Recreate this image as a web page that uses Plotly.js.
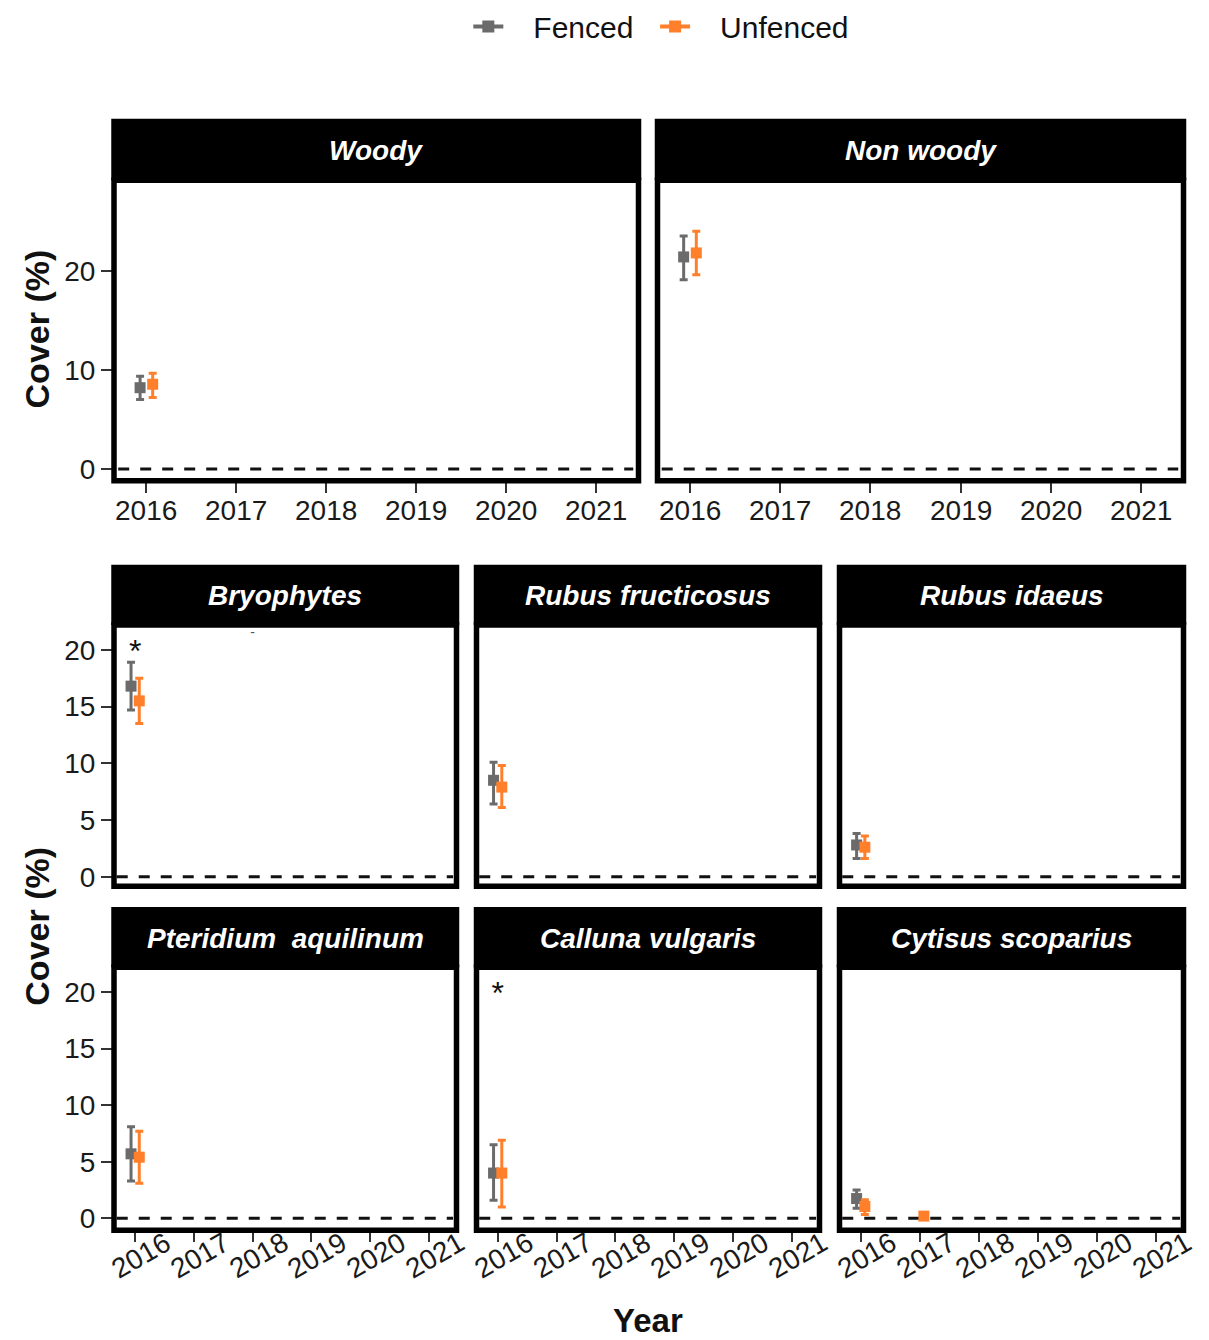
<!DOCTYPE html>
<html><head><meta charset="utf-8">
<script src="https://cdn.plot.ly/plotly-3.0.1.min.js"></script>
<style>html,body{margin:0;padding:0;background:#fff;}</style>
</head><body>
<div id="chart" style="width:1209px;height:1340px;"></div>
<script>
// ---------- DATA ----------
const panelNames = ["Woody", "Non woody", "Bryophytes", "Rubus fructicosus", "Rubus idaeus",
  "Pteridium\u00a0 aquilinum", "Calluna vulgaris", "Cytisus scoparius"];
const years = [2016, 2017, 2018, 2019, 2020, 2021];
const yearLabels = ["2016", "2017", "2018", "2019", "2020", "2021"];
const seriesNames = ["Fenced", "Unfenced"];

const fencedYear  = [[2016], [2016], [2016], [2016], [2016], [2016], [2016], [2016]];
const fencedMean  = [[8.2],  [21.4], [16.8], [8.5],  [2.8], [5.7], [4.0], [1.75]];
const fencedUpper = [[9.35], [23.5], [18.9], [10.1], [3.8], [8.1], [6.5], [2.5]];
const fencedLower = [[7.0],  [19.1], [14.7], [6.4],  [1.6], [3.3], [1.6], [0.9]];

const unfencedYear  = [[2016], [2016], [2016], [2016], [2016], [2016], [2016], [2016, 2017]];
const unfencedMean  = [[8.55], [21.8], [15.5], [7.9], [2.6], [5.4], [4.0], [1.05, 0.2]];
const unfencedUpper = [[9.65], [24.0], [17.5], [9.8], [3.6], [7.7], [6.9], [1.65, 0.25]];
const unfencedLower = [[7.2],  [19.6], [13.5], [6.1], [1.6], [3.1], [1.0], [0.35, 0.15]];

// significance marks
const sigPanel = [2, 6];
const sigYear  = [2016, 2016];
const sigValue = [19.6, 19.6];
const sigText  = ["*", "*"];
// stray dash in Bryophytes panel
const dashPanel = [2];
const dashYear = [2018];
const dashValue = [21.4];

const yTicksTop = [0, 10, 20];
const yTicksLow = [0, 5, 10, 15, 20];

// ---------- STYLE / LAYOUT ----------
const W = 1209, H = 1340;
const colors = ["#6b6b6b", "#ff7f2a"];
const dodge = 0.07;
const font = "Liberation Sans, Arial, Helvetica, sans-serif";
const rows = [
  {stripTop: 105, plotTop: 167, plotBottom: 471, yRange: [-1.19, 29.15], ticks: yTicksTop, xLabels: true, labelY: 501, angle: 0, shift: 0},
  {stripTop: 556, plotTop: 617, plotBottom: 881, yRange: [-0.83, 22.18], ticks: yTicksLow, xLabels: false},
  {stripTop: 902, plotTop: 963, plotBottom: 1229, yRange: [-1.05, 22.18], ticks: yTicksLow, xLabels: true, labelY: 1255, angle: -30, shift: 6}
];
const colsTop = [[114, 638.5], [657.5, 1183.5]];
const colsLow = [[114, 456.5], [476.5, 819.5], [839.5, 1183.5]];
const panelPos = [
  [0, colsTop[0]], [0, colsTop[1]],
  [1, colsLow[0]], [1, colsLow[1]], [1, colsLow[2]],
  [2, colsLow[0]], [2, colsLow[1]], [2, colsLow[2]]
];
const xRange = [2015.64, 2021.47];

const px = v => v / W;
const py = v => 1 - v / H;
const nb = "\u00a0";

const traces = [];
const layout = {
  width: W, height: H,
  margin: {l: 0, r: 0, t: 0, b: 0},
  paper_bgcolor: "#fff", plot_bgcolor: "#fff",
  font: {family: font, color: "#111"},
  showlegend: true,
  legend: {orientation: "h", x: 0.547, xanchor: "center", y: 1.011, yanchor: "top",
           font: {size: 30, family: font, color: "#111"}, bgcolor: "rgba(0,0,0,0)"},
  shapes: [], annotations: []
};

panelPos.forEach(([r, cx], i) => {
  const row = rows[r];
  const k = i + 1;
  const xa = "xaxis" + (k === 1 ? "" : k), ya = "yaxis" + (k === 1 ? "" : k);
  const xr = "x" + (k === 1 ? "" : k), yr = "y" + (k === 1 ? "" : k);
  const leftCol = (i === 0 || i === 2 || i === 5);
  layout[xa] = {
    domain: [px(cx[0]), px(cx[1])], anchor: yr, range: xRange,
    tickvals: years, showticklabels: false, ticks: row.xLabels ? "outside" : "",
    ticklen: 11, tickwidth: 2, tickcolor: "#333",
    showgrid: false, zeroline: false, showline: false, fixedrange: true
  };
  layout[ya] = {
    domain: [py(row.plotBottom), py(row.plotTop)], anchor: xr, range: row.yRange,
    tickvals: row.ticks, ticktext: row.ticks.map(String),
    showticklabels: leftCol, ticks: leftCol ? "outside" : "",
    ticklen: 12, tickwidth: 2, tickcolor: "#333",
    tickfont: {size: 28, family: font, color: "#1a1a1a"},
    showgrid: false, zeroline: false, showline: false, fixedrange: true
  };
  // x tick labels
  if (row.xLabels) {
    years.forEach((yv, j) => layout.annotations.push({
      xref: xr, yref: "paper", x: yv, y: py(row.labelY), xshift: row.shift,
      xanchor: "center", yanchor: "middle", textangle: row.angle, showarrow: false,
      text: yearLabels[j], font: {size: 28, family: font, color: "#1a1a1a"}
    }));
  }
  // dashed zero line
  layout.shapes.push({type: "line", xref: xr + " domain", yref: yr, x0: 0.008, x1: 0.99, y0: 0, y1: 0,
    line: {color: "#111", width: 3, dash: "11px,11px"}, layer: "below"});
  // frame
  layout.shapes.push({type: "rect", xref: "paper", yref: "paper",
    x0: px(cx[0]), x1: px(cx[1]), y0: py(row.plotBottom), y1: py(row.plotTop),
    line: {color: "#000", width: 5.5}, fillcolor: "rgba(0,0,0,0)", layer: "above"});
  // strip
  layout.shapes.push({type: "rect", xref: "paper", yref: "paper",
    x0: px(cx[0] - 2.75), x1: px(cx[1] + 2.75), y0: py(row.plotTop), y1: py(row.stripTop),
    line: {width: 0}, fillcolor: "#000", layer: "above"});
  layout.annotations.push({xref: "paper", yref: "paper", x: px((cx[0] + cx[1]) / 2),
    y: py((row.stripTop + row.plotTop) / 2 + 1), xanchor: "center", yanchor: "middle",
    text: "<b><i>" + panelNames[i] + "</i></b>", showarrow: false,
    font: {size: 28, family: font, color: "#fff"}});

  // series
  const sets = [
    [fencedYear[i], fencedMean[i], fencedUpper[i], fencedLower[i], -dodge, 0],
    [unfencedYear[i], unfencedMean[i], unfencedUpper[i], unfencedLower[i], dodge, 1]
  ];
  sets.forEach(([yrs, m, up, lo, off, s]) => {
    traces.push({
      type: "scatter", mode: "markers", xaxis: xr, yaxis: yr,
      x: yrs.map(v => v + off), y: m, name: seriesNames[s], showlegend: false,
      marker: {symbol: "square", size: 11, color: colors[s]},
      error_y: {type: "data", symmetric: false, array: up.map((u, j) => u - m[j]),
        arrayminus: lo.map((l, j) => m[j] - l), color: colors[s], thickness: 3, width: 4},
      hoverinfo: "skip", cliponaxis: false
    });
  });
  // significance
  const sx = [], sy = [], st = [];
  sigPanel.forEach((p, j) => { if (p === i) { sx.push(sigYear[j]); sy.push(sigValue[j]); st.push(sigText[j]); } });
  if (sx.length) traces.push({type: "scatter", mode: "text", xaxis: xr, yaxis: yr, x: sx, y: sy, text: st,
    textposition: "middle center", textfont: {size: 32, family: font, color: "#111"}, showlegend: false, hoverinfo: "skip"});
  const dx = [], dy = [];
  dashPanel.forEach((p, j) => { if (p === i) { dx.push(dashYear[j]); dy.push(dashValue[j]); } });
  if (dx.length) traces.push({type: "scatter", mode: "text", xaxis: xr, yaxis: yr, x: dx, y: dy, text: dx.map(() => "-"),
    textposition: "middle center", textfont: {size: 14, family: font, color: "#555"}, showlegend: false, hoverinfo: "skip"});
});

// legend entries
seriesNames.forEach((n, s) => traces.push({
  type: "scatter", mode: "lines+markers", x: [null], y: [null],
  name: nb + nb + nb + n + (s === 0 ? nb + nb : ""),
  line: {color: colors[s], width: 4}, marker: {symbol: "square", size: 12, color: colors[s]},
  xaxis: "x", yaxis: "y", showlegend: true
}));

// axis titles
layout.annotations.push({xref: "paper", yref: "paper", x: px(37), y: py(318), textangle: -90,
  text: "<b>Cover (%)</b>", showarrow: false, xanchor: "center", yanchor: "middle",
  font: {size: 34, family: font, color: "#111"}});
layout.annotations.push({xref: "paper", yref: "paper", x: px(37), y: py(922), textangle: -90,
  text: "<b>Cover (%)</b>", showarrow: false, xanchor: "center", yanchor: "middle",
  font: {size: 34, family: font, color: "#111"}});
layout.annotations.push({xref: "paper", yref: "paper", x: px(648), y: py(1320),
  text: "<b>Year</b>", showarrow: false, xanchor: "center", yanchor: "middle",
  font: {size: 33, family: font, color: "#111"}});

Plotly.newPlot("chart", traces, layout, {displayModeBar: false, responsive: false});
</script>
</body></html>
